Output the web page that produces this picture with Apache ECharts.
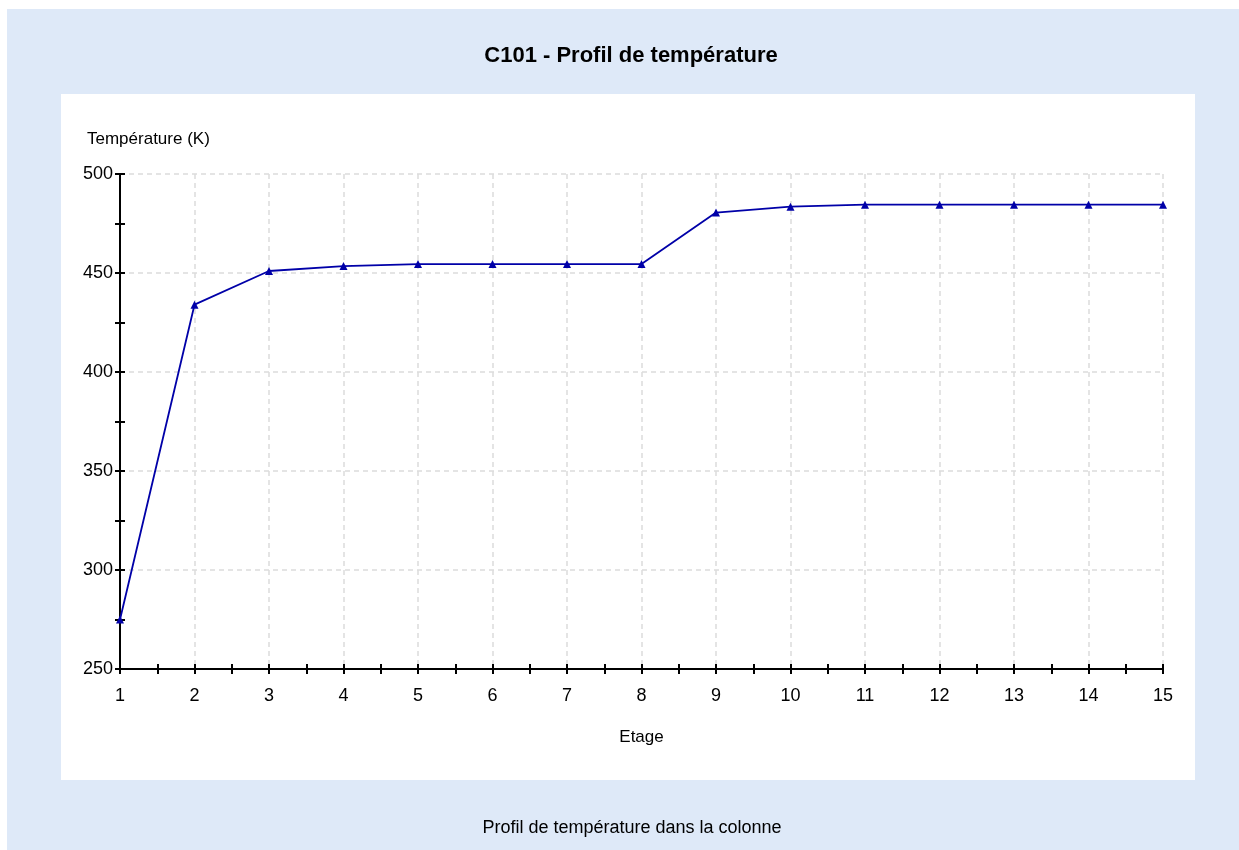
<!DOCTYPE html>
<html>
<head>
<meta charset="utf-8">
<title>C101 - Profil de température</title>
<script src="https://cdn.jsdelivr.net/npm/echarts@6/dist/echarts.min.js"></script>
<style>
  html, body { margin: 0; padding: 0; background: #fff; }
  #chart { width: 1239px; height: 850px; }
</style>
</head>
<body>
<div id="chart"></div>
<script>
// étages de la colonne et température
var etages = [1, 2, 3, 4, 5, 6, 7, 8, 9, 10, 11, 12, 13, 14, 15];
var temperatures = [275, 434, 451, 453.5, 454.5, 454.5, 454.5, 454.5, 480.5, 483.5, 484.5, 484.5, 484.5, 484.5, 484.5];
var yTicks = [250, 300, 350, 400, 450, 500];

var chart = echarts.init(document.getElementById('chart'));
var font = 'Liberation Sans, Arial, sans-serif';
var gridLine = { show: true, lineStyle: { color: '#dcdcdc', type: [5, 4], width: 1.5 } };

var points = etages.map(function (e, i) { return [e, temperatures[i]]; });

// axe "principal" (ticks vers l'extérieur) + axe fantôme (ticks vers l'intérieur)
function xAx(inside) {
  return {
    type: 'value', position: 'bottom', min: 1, max: 15, interval: 1,
    name: inside ? '' : 'Etage',
    nameLocation: 'middle', nameGap: 60,
    nameTextStyle: { color: '#000', fontSize: 17, fontFamily: font },
    axisLine: { show: !inside, onZero: false, lineStyle: { color: '#000', width: 2 } },
    axisTick: { show: true, inside: inside, length: 5, lineStyle: { color: '#000', width: 2 } },
    minorTick: { show: true, splitNumber: 2, length: 5, lineStyle: { color: '#000', width: 2 } },
    axisLabel: { show: !inside, color: '#000', fontSize: 18, fontFamily: font, margin: 18 },
    splitLine: inside ? { show: false } : gridLine
  };
}
function yAx(inside) {
  return {
    type: 'value', position: 'left', min: yTicks[0], max: yTicks[yTicks.length - 1], interval: 50,
    axisLine: { show: !inside, onZero: false, lineStyle: { color: '#000', width: 2 } },
    axisTick: { show: true, inside: inside, length: 5, lineStyle: { color: '#000', width: 2 } },
    minorTick: { show: true, splitNumber: 2, length: 5, lineStyle: { color: '#000', width: 2 } },
    axisLabel: { show: !inside, color: '#000', fontSize: 18, fontFamily: font, margin: 7 },
    splitLine: inside ? { show: false } : gridLine
  };
}

var option = {
  backgroundColor: '#fff',
  animation: false,
  graphic: [
    { type: 'rect', z: -10, shape: { x: 7, y: 9, width: 1232, height: 841 }, style: { fill: '#dee9f8' } },
    { type: 'rect', z: -9, shape: { x: 61, y: 94, width: 1134, height: 686 }, style: { fill: '#fff' } },
    { type: 'text', left: 87, top: 131, style: { text: 'Température (K)', fill: '#000', font: '17px ' + font } }
  ],
  title: [
    {
      text: 'C101 - Profil de température', left: 626, top: 40, textAlign: 'center',
      textStyle: { color: '#000', fontSize: 22, fontWeight: 'bold', fontFamily: font }
    },
    {
      text: 'Profil de température dans la colonne', left: 627, top: 814, textAlign: 'center',
      textStyle: { color: '#000', fontSize: 18, fontWeight: 'normal', fontFamily: font }
    }
  ],
  grid: { left: 120, right: 76, top: 174, bottom: 181, containLabel: false },
  xAxis: [xAx(false), xAx(true)],
  yAxis: [yAx(false), yAx(true)],
  series: [{
    type: 'line',
    data: points,
    symbol: 'triangle',
    symbolSize: 8,
    showAllSymbol: true,
    itemStyle: { color: '#0000a8' },
    lineStyle: { color: '#0000a8', width: 1.8 }
  }]
};
chart.setOption(option);
</script>
</body>
</html>
